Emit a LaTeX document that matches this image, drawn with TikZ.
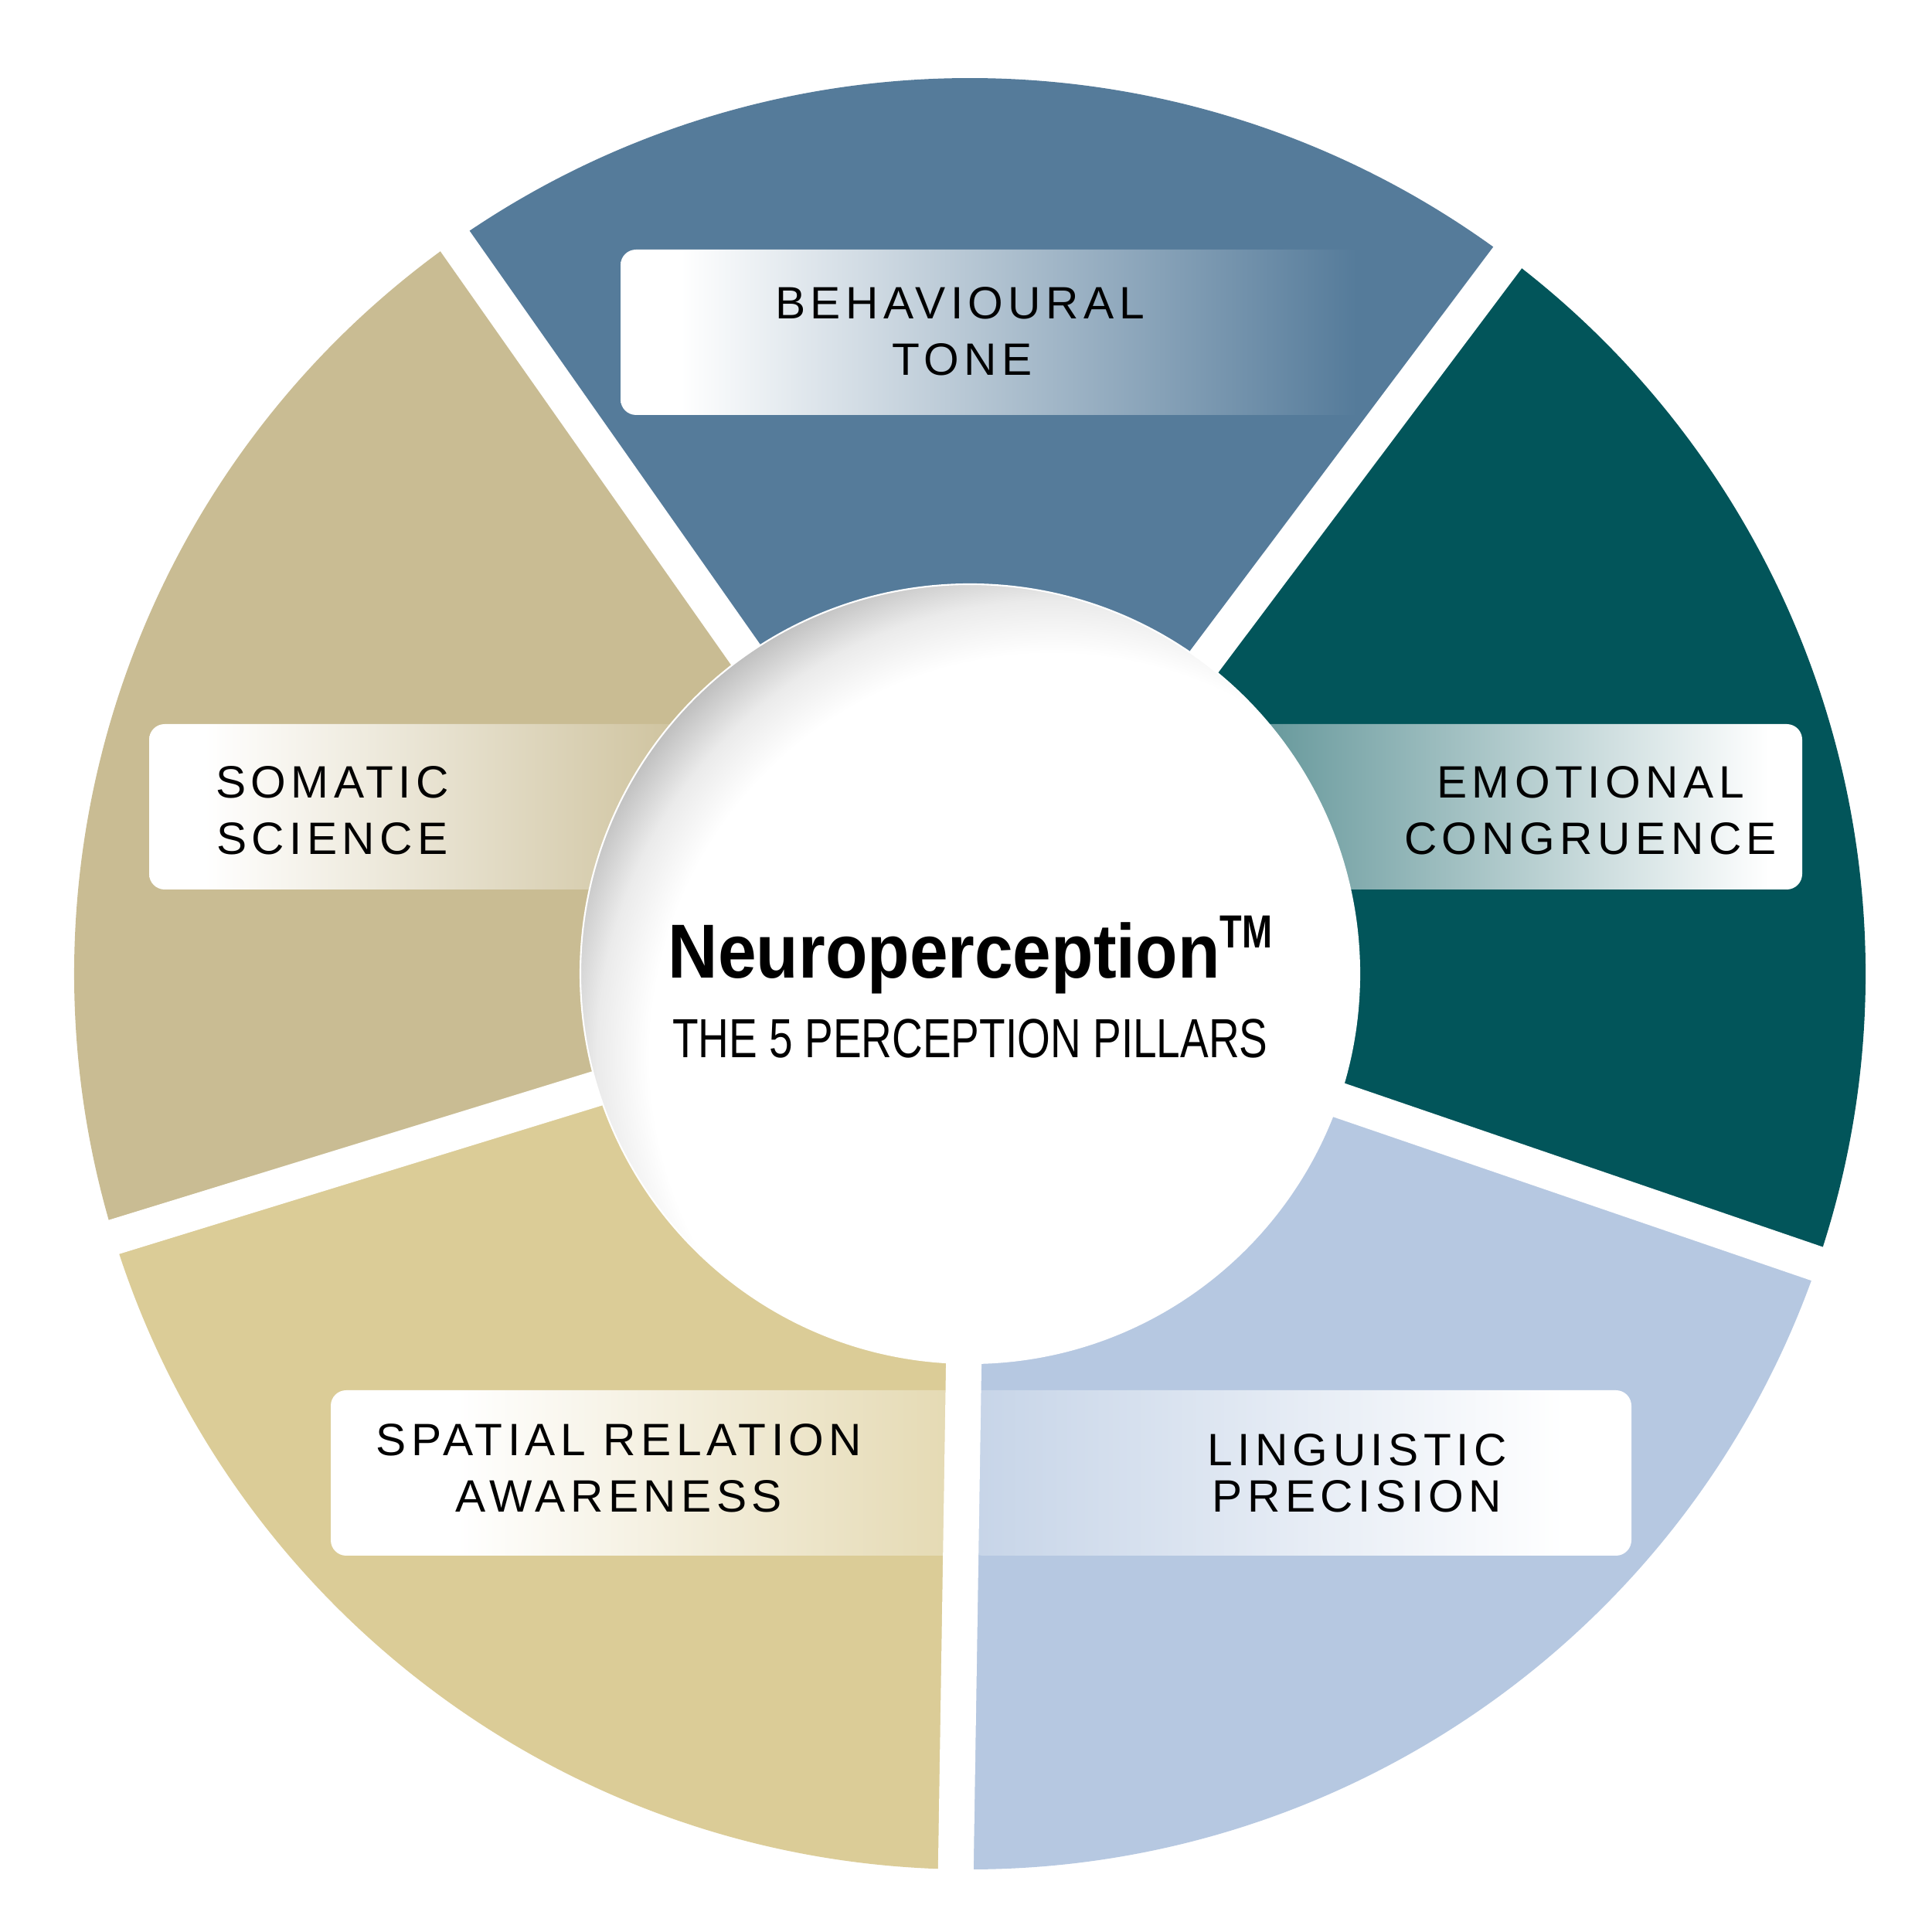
\documentclass[tikz,border=0pt]{standalone}
\usepackage{fontspec}
\usetikzlibrary{calc}
\setmainfont{Liberation Sans}
\newfontfamily\labelfont{Liberation Sans}[LetterSpace=11]
\newfontfamily\titlefont{Liberation Sans}[FakeStretch=0.9]
\newfontfamily\tmfont{Liberation Sans}[FakeStretch=0.78]
\newfontfamily\subfont{Liberation Sans}[FakeStretch=0.771]
\definecolor{cBeh}{HTML}{557B9A}
\definecolor{cEmo}{HTML}{02555A}
\definecolor{cLin}{HTML}{B6C8E1}
\definecolor{cSpa}{HTML}{DBCC97}
\definecolor{cSom}{HTML}{C9BC93}
\pgfdeclarehorizontalshading{behShade}{100bp}{color(0bp)=(white); color(29bp)=(white); color(74bp)=(cBeh); color(100bp)=(cBeh)}
\pgfdeclarehorizontalshading{somShade}{100bp}{color(0bp)=(white); color(30bp)=(white); color(78bp)=(cSom); color(100bp)=(cSom)}
\pgfdeclarehorizontalshading{emoShade}{100bp}{color(0bp)=(cEmo!62!white); color(25bp)=(cEmo!62!white); color(72bp)=(white); color(100bp)=(white)}
\pgfdeclarehorizontalshading{spaShade}{100bp}{color(0bp)=(white); color(35bp)=(white); color(75bp)=(cSpa!75!white); color(100bp)=(cSpa!75!white)}
\pgfdeclarehorizontalshading{linShade}{100bp}{color(0bp)=(cLin!78!white); color(25bp)=(cLin!78!white); color(70bp)=(white); color(100bp)=(white)}
\pgfdeclareradialshading{innerSh}{\pgfpointorigin}{color(0bp)=(white); color(19.7bp)=(white); color(22.3bp)=(black!8); color(25bp)=(black!27); color(50bp)=(black!29)}
\tikzset{
  labeltext/.style={font=\labelfont\fontsize{16.7}{20}\selectfont, text=black, inner sep=0pt, anchor=base},
  pillarbox/.style={rounded corners=0.2cm},
  gapline/.style={white, line width=0.46cm},
}
\begin{document}
\begin{tikzpicture}
\useasboundingbox (0,0) rectangle (25,25);
\fill[white] (0,0) rectangle (25,25);
\coordinate (C) at (12.55,12.40);
\coordinate (Cs) at (13.61,11.34);
\def\Ro{11.59}
% wedges
\fill[cEmo] (C) -- ++(-18.9:\Ro) arc[start angle=-18.9, end angle=53.1, radius=\Ro] -- cycle;
\fill[cBeh] (C) -- ++(53.1:\Ro) arc[start angle=53.1, end angle=125.1, radius=\Ro] -- cycle;
\fill[cSom] (C) -- ++(125.1:\Ro) arc[start angle=125.1, end angle=197.1, radius=\Ro] -- cycle;
\fill[cSpa] (C) -- ++(197.1:\Ro) arc[start angle=197.1, end angle=269.1, radius=\Ro] -- cycle;
\fill[cLin] (C) -- ++(269.1:\Ro) arc[start angle=269.1, end angle=341.1, radius=\Ro] -- cycle;
% label boxes
\shade[shading=behShade, pillarbox] (8.03,19.63) rectangle (17.75,21.77);
\shade[shading=somShade, pillarbox] (1.93,13.49) rectangle (9.10,15.63);
\shade[shading=emoShade, pillarbox] (16.15,13.49) rectangle (23.32,15.63);
\shade[shading=spaShade, pillarbox] (4.28,4.87) rectangle (12.50,7.01);
\shade[shading=linShade, pillarbox] (12.52,4.87) rectangle (21.11,7.01);
% gaps
\foreach \a in {53.1,125.1,197.1,269.1,341.1}
  \draw[gapline] (C) -- ++(\a:12.4);
% centre disc
\fill[white] (C) circle (5.04);
\begin{scope}
  \clip (C) circle (5.04);
  \shade[shading=innerSh] (Cs) circle (6.6);
\end{scope}
\draw[white, line width=0.6pt] (C) circle (5.04);
% texts
\node[labeltext] (beh1) at (12.42,20.87) {BEHAVIOURAL};
\node[labeltext] (beh2) at (12.45,20.14) {TONE};
\node[labeltext] (som1) at (4.30,14.67) {SOMATIC};
\node[labeltext] (som2) at (4.30,13.94) {SCIENCE};
\node[labeltext] (emo1) at (20.58,14.67) {EMOTIONAL};
\node[labeltext] (emo2) at (20.58,13.94) {CONGRUENCE};
\node[labeltext] (spa1) at (8.01,6.16) {SPATIAL RELATION};
\node[labeltext] (spa2) at (8.01,5.43) {AWARENESS};
\node[labeltext] (lin1) at (17.56,6.03) {LINGUISTIC};
\node[labeltext] (lin2) at (17.56,5.43) {PRECISION};
\node[inner sep=0pt, anchor=base, font=\titlefont\bfseries\fontsize{28.2}{30}\selectfont] (title) at (12.555,12.34)
  {Neuroperception\raisebox{11.1pt}{\tmfont\bfseries\fontsize{17.1}{18}\selectfont TM}};
\node[inner sep=0pt, anchor=base, font=\subfont\fontsize{20.3}{22}\selectfont] (sub) at (12.555,11.31) {THE 5 PERCEPTION PILLARS};
\end{tikzpicture}
\end{document}
